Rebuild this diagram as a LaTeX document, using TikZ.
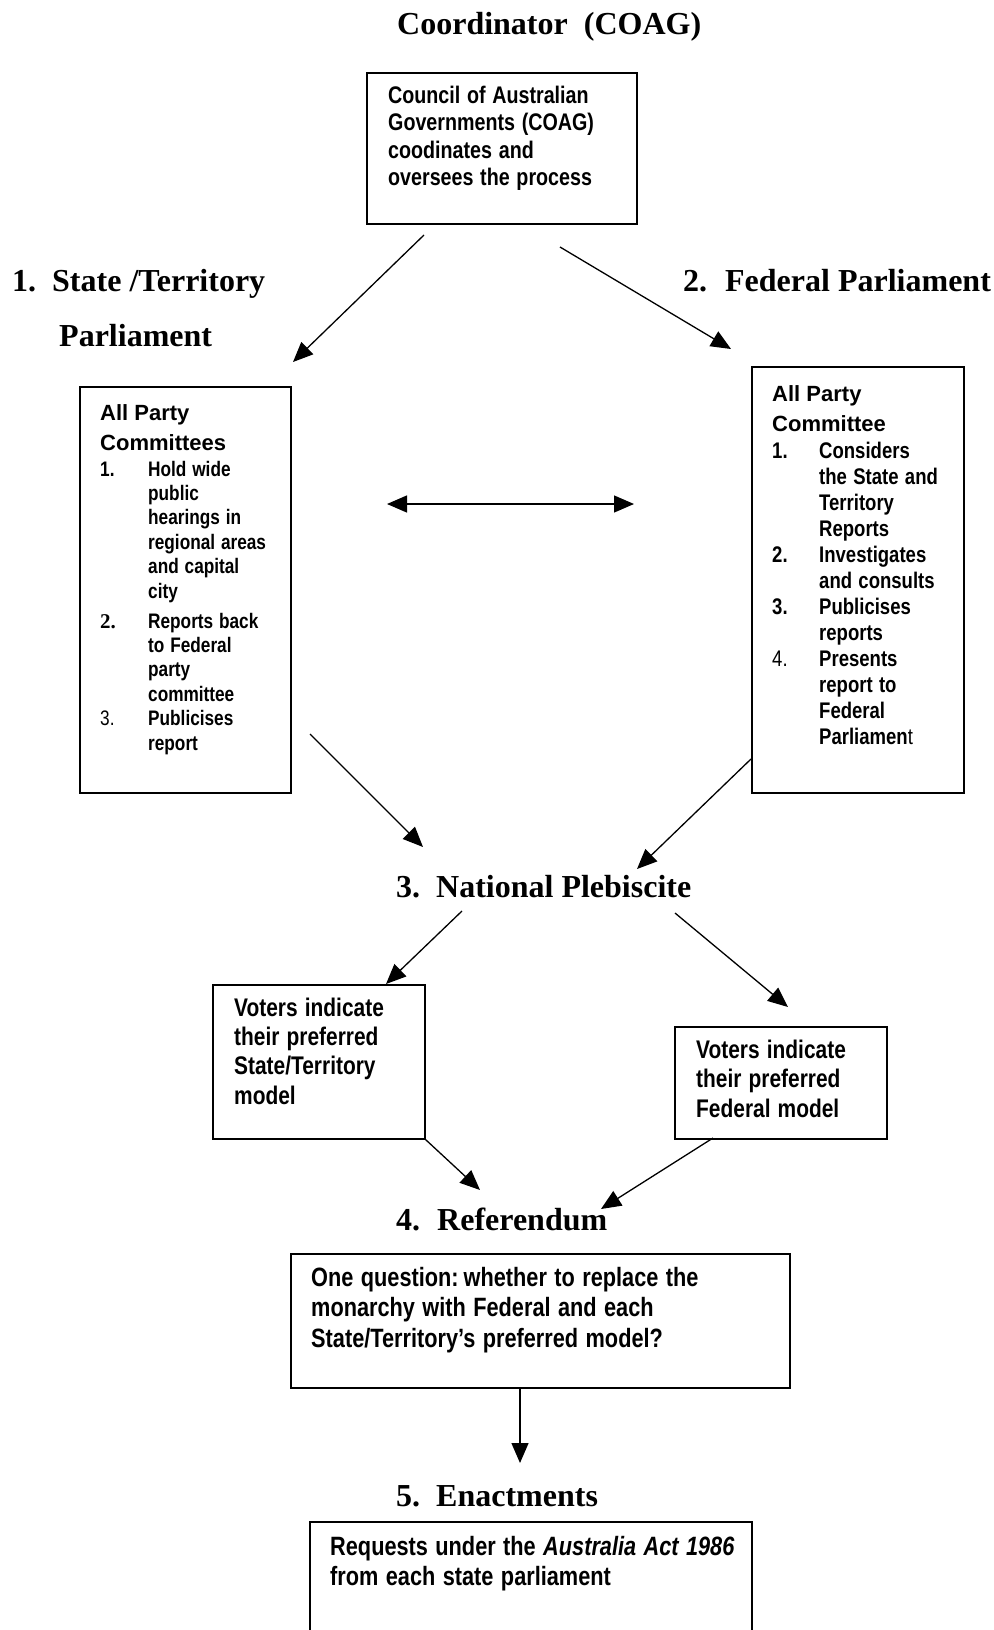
\documentclass[tikz,border=0pt]{standalone}
\usepackage{fontspec}
\setmainfont{Liberation Serif}
\newfontfamily\arialf{Liberation Sans}
\newfontfamily\narf{Liberation Sans}[FakeStretch=0.82]
\newcommand\widesp{\spaceskip=0.28em\relax}
\usetikzlibrary{arrows.meta}
\begin{document}
\begin{tikzpicture}[x=1pt,y=-1pt,
  box/.style={draw, line width=1.6pt, anchor=north west, inner sep=0pt},
  arr/.style={line width=1.3pt, -{Triangle[length=20pt,width=17pt]}},
  darr/.style={line width=1.3pt, {Triangle[length=20pt,width=17pt]}-{Triangle[length=20pt,width=17pt]}},
  head/.style={anchor=base west, inner sep=0pt, font=\fontsize{32}{36}\selectfont\bfseries},
  txt/.style={anchor=base west, inner sep=0pt, text width=#1}
]
\useasboundingbox (0,0) rectangle (993,1630);
\fill[white] (0,0) rectangle (993,1630);

% headings
\node[head] (h0) at (397,34) {Coordinator\hspace{16pt}(COAG)};
\node[head] (h1) at (12,291) {\makebox[40pt][l]{1.}State /Territory};
\node[head] (h1b) at (59,346) {Parliament};
\node[head] (h2) at (683,291) {\makebox[42pt][l]{2.}Federal Parliament};
\node[head] (h3) at (396,897) {\makebox[40pt][l]{3.}National Plebiscite};
\node[head] (h4) at (396,1230) {\makebox[41pt][l]{4.}Referendum};
\node[head] (h5) at (396,1506) {\makebox[40pt][l]{5.}Enactments};

% boxes
\node[box, minimum width=270pt, minimum height=151pt] (coag) at (366,72) {};
\node[box, minimum width=211pt, minimum height=406pt] (lbox) at (79,386) {};
\node[box, minimum width=212pt, minimum height=426pt] (rbox) at (751,366) {};
\node[box, minimum width=212pt, minimum height=154pt] (vl) at (212,984) {};
\node[box, minimum width=212pt, minimum height=112pt] (vr) at (674,1026) {};
\node[box, minimum width=499pt, minimum height=134pt] (ref) at (290,1253) {};
\node[box, minimum width=442pt, minimum height=140pt] (enact) at (309,1521) {};

% box texts
\node[txt=240pt] (coagtxt) at (388,103) {\narf\bfseries\fontsize{24}{27.6}\selectfont\widesp
Council of Australian\newline Governments (COAG)\newline coodinates and\newline oversees the process\par};

\node[txt=200pt] (ltxt) at (100,420) {%
{\arialf\bfseries\fontsize{22}{30}\selectfont\widesp All Party\par Committees\par}
\vspace{1.6pt}
{\narf\bfseries\fontsize{21}{24.4}\selectfont\widesp
\hangindent=48pt\hangafter=1\makebox[48pt][l]{1.}Hold wide\newline public\newline hearings in\newline regional areas\newline and capital\newline city\par
\vspace{5.6pt}
\hangindent=48pt\hangafter=1\makebox[48pt][l]{\rmfamily\bfseries 2.}Reports back\newline to Federal\newline party\newline committee\par
\hangindent=48pt\hangafter=1\makebox[48pt][l]{\mdseries 3.}Publicises\newline report\par}};

\node[txt=200pt] (rtxt) at (772,401) {%
{\arialf\bfseries\fontsize{22}{30}\selectfont\widesp All Party\par Committee\par}
\vspace{1pt}
{\narf\bfseries\fontsize{22.6}{26}\selectfont\widesp
\hangindent=47pt\hangafter=1\makebox[47pt][l]{1.}Considers\newline the State and\newline Territory\newline Reports\par
\hangindent=47pt\hangafter=1\makebox[47pt][l]{2.}Investigates\newline and consults\par
\hangindent=47pt\hangafter=1\makebox[47pt][l]{3.}Publicises\newline reports\par
\hangindent=47pt\hangafter=1\makebox[47pt][l]{\mdseries 4.}Presents\newline report to\newline Federal\newline Parliamen{\mdseries t}\par}};

\node[txt=190pt] (vltxt) at (234,1016) {\narf\bfseries\fontsize{25.5}{29.4}\selectfont\widesp
Voters indicate\newline their preferred\newline State/Territory\newline model\par};
\node[txt=190pt] (vrtxt) at (696,1058) {\narf\bfseries\fontsize{25.5}{29.8}\selectfont\widesp
Voters indicate\newline their preferred\newline Federal model\par};
\node[txt=470pt] (reftxt) at (311,1286) {\narf\bfseries\fontsize{26.5}{30.5}\selectfont\widesp
One question: whether to replace the\newline monarchy with Federal and each\newline State/Territory’s preferred model?\par};
\node[txt=420pt] (enacttxt) at (330,1555) {\narf\bfseries\fontsize{26.5}{30}\selectfont\widesp
Requests under the \textit{Australia Act 1986}\newline from each state parliament\par};

% connector end points
\coordinate (c1s) at (424,235); \coordinate (c1e) at (293,362);
\coordinate (c2s) at (560,247); \coordinate (c2e) at (731,349);
\coordinate (d1) at (387,504);  \coordinate (d2) at (634,504);
\coordinate (l1s) at (310,734); \coordinate (l1e) at (423,847);
\coordinate (r1e) at (637,869);
\coordinate (p1s) at (462,911); \coordinate (p1e) at (386,984);
\coordinate (p2s) at (675,913); \coordinate (p2e) at (788,1007);
\coordinate (v1e) at (480,1190);
\coordinate (v2s) at (713,1138); \coordinate (v2e) at (601,1209);
\coordinate (rfe) at (520,1463);

\draw[arr] (c1s) -- (c1e);
\draw[arr] (c2s) -- (c2e);
\draw[darr] (d1) -- (d2);
\draw[arr] (l1s) -- (l1e);
\draw[arr] (rbox.west |- 0,759) -- (r1e);
\draw[arr] (p1s) -- (p1e);
\draw[arr] (p2s) -- (p2e);
\draw[arr] (vl.south east) -- (v1e);
\draw[arr] (v2s) -- (v2e);
\draw[arr] (ref.south -| 520,0) -- (rfe);
\end{tikzpicture}
\end{document}
